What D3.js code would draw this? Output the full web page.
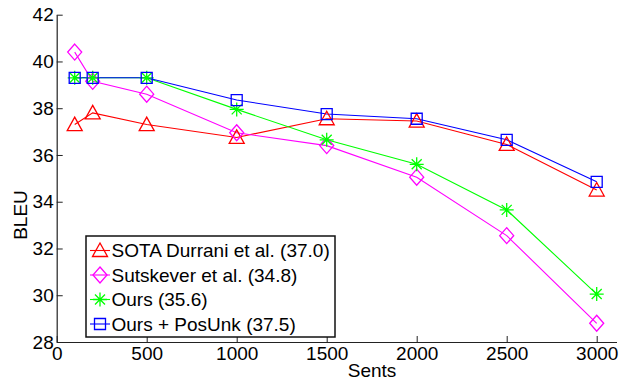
<!DOCTYPE html>
<html lang="en">
<head>
<meta charset="UTF-8">
<title>BLEU vs Sents</title>
<script src="https://d3js.org/d3.v7.min.js"></script>
<style>
  body { margin: 0; background: #fff; }
  text { font-family: "Liberation Sans", Arial, sans-serif; fill: #000; }
</style>
</head>
<body>
<svg id="chart"></svg>
<script>
// data
const sents = [100, 200, 500, 1000, 1500, 2000, 2500, 3000];
const sota = [37.3, 37.8, 37.3, 36.75, 37.55, 37.45, 36.45, 34.5];
const sutskever = [40.4, 39.15, 38.6, 36.95, 36.4, 35.05, 32.55, 28.8];
const ours = [39.3, 39.3, 39.3, 37.95, 36.65, 35.6, 33.65, 30.05];
const oursPosUnk = [39.3, 39.3, 39.3, 38.35, 37.75, 37.55, 36.65, 34.85];
const seriesNames = ["SOTA Durrani et al. (37.0)", "Sutskever et al. (34.8)", "Ours (35.6)", "Ours + PosUnk (37.5)"];
const xTicks = [0, 500, 1000, 1500, 2000, 2500, 3000];
const yTicks = [28, 30, 32, 34, 36, 38, 40, 42];

const W = 626, H = 381;
const svg = d3.select("#chart").attr("width", W).attr("height", H);

const x = d3.scaleLinear().domain([0, 3110]).range([56.7, 616.5]);
const y = d3.scaleLinear().domain([28, 42]).range([342, 14.7]);

const series = [
  { name: seriesNames[0], values: sota, color: "#ff0000", marker: "triangle" },
  { name: seriesNames[1], values: sutskever, color: "#ff00ff", marker: "diamond" },
  { name: seriesNames[2], values: ours, color: "#00ff00", marker: "star" },
  { name: seriesNames[3], values: oursPosUnk, color: "#0000ff", marker: "square" }
];

function markerPath(type) {
  switch (type) {
    case "triangle": return "M0,-7.5L7.5,6L-7.5,6Z";
    case "diamond": return "M0,-8L7,0L0,8L-7,0Z";
    case "square": return "M-5.5,-5.5H5.5V5.5H-5.5Z";
    case "star": return "M0,-7V7M-7,0H7M-5,-5L5,5M-5,5L5,-5";
  }
}

// axes (inward ticks, no box)
const xAxis = svg.append("g")
  .attr("transform", `translate(0,${y(28)})`)
  .call(d3.axisBottom(x).tickValues(xTicks).tickFormat(d3.format("d"))
    .tickSizeInner(-6).tickSizeOuter(0).tickPadding(5));
const yAxis = svg.append("g")
  .attr("transform", `translate(${x(0)},0)`)
  .call(d3.axisLeft(y).tickValues(yTicks).tickFormat(d3.format("d"))
    .tickSizeInner(-6).tickSizeOuter(0).tickPadding(3));

[xAxis, yAxis].forEach(a => {
  a.select(".domain").attr("stroke", "#222").attr("stroke-width", 1.2);
  a.selectAll(".tick line").attr("stroke", "#222");
  a.selectAll(".tick text").style("font-size", "19px").attr("fill", "#000")
    .style("font-family", "'Liberation Sans', Arial, sans-serif");
});

// lines
const line = d3.line().x((d, i) => x(sents[i])).y(d => y(d));
series.forEach(s => {
  svg.append("path")
    .datum(s.values)
    .attr("d", line)
    .attr("fill", "none")
    .attr("stroke", s.color)
    .attr("stroke-width", 1.1);
});

// markers
series.forEach(s => {
  svg.selectAll(null)
    .data(s.values)
    .enter()
    .append("path")
    .attr("transform", (d, i) => `translate(${x(sents[i])},${y(d)})`)
    .attr("d", markerPath(s.marker))
    .attr("fill", "none")
    .attr("stroke", s.color)
    .attr("stroke-width", 1.3);
});

// axis labels
svg.append("text")
  .attr("x", 372)
  .attr("y", 377)
  .attr("text-anchor", "middle")
  .style("font-size", "19px")
  .text("Sents");

svg.append("text")
  .attr("transform", "rotate(-90)")
  .attr("x", -215)
  .attr("y", 27)
  .attr("text-anchor", "middle")
  .style("font-size", "19px")
  .text("BLEU");

// legend
const legend = svg.append("g").attr("transform", "translate(86,236)");
legend.append("rect")
  .attr("width", 249)
  .attr("height", 101)
  .attr("fill", "#fff")
  .attr("stroke", "#111")
  .attr("stroke-width", 1.5);

const item = legend.selectAll(".item")
  .data(series)
  .enter()
  .append("g")
  .attr("class", "item")
  .attr("transform", (d, i) => `translate(0,${14.5 + i * 24.5})`);

item.append("line")
  .attr("x1", 4).attr("x2", 24)
  .attr("stroke", d => d.color).attr("stroke-width", 1.1);
item.append("path")
  .attr("transform", "translate(14,0)")
  .attr("d", d => markerPath(d.marker))
  .attr("fill", "none")
  .attr("stroke", d => d.color)
  .attr("stroke-width", 1.3);
item.append("text")
  .attr("x", 25.5)
  .attr("dy", "0.36em")
  .style("font-size", "19px")
  .text(d => d.name);
</script>
</body>
</html>
